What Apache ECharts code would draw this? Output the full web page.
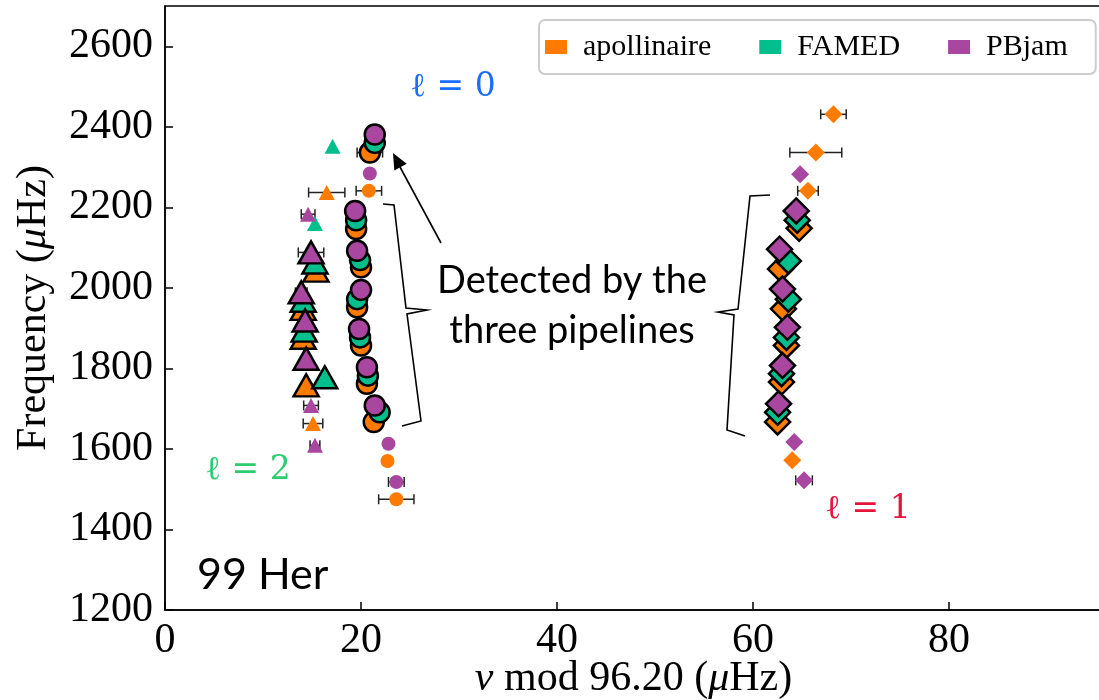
<!DOCTYPE html>
<html>
<head>
<meta charset="utf-8">
<script src="https://cdn.jsdelivr.net/npm/echarts@6/dist/echarts.min.js"></script>
<style>html,body{margin:0;padding:0;background:#fff}#chart{width:1099px;height:700px}</style>
</head>
<body>
<div id="chart"></div>
<script>
var ORANGE='#ff7b00', GREEN='#00bf8c', PURPLE='#a846a0';
var pipelines=['apollinaire','FAMED','PBjam'];

// l = 0 (circles); big = found by all three pipelines
var apoL0Big=[[20.9,2336],[19.5,2146],[20.0,2051],[19.6,1952],[20.0,1857],[20.6,1762],[21.3,1667]];
var famL0Big=[[21.4,2360],[19.5,2168],[19.9,2069],[19.6,1972],[19.9,1877],[20.7,1782],[21.9,1691]];
var pbjL0Big=[[21.4,2381],[19.4,2191],[19.6,2092],[20.0,1995],[19.8,1898],[20.6,1803],[21.4,1708]];
var apoL0=[[20.8,2241],[22.7,1570],[23.6,1475]];
var pbjL0=[[20.9,2284],[22.8,1613],[23.6,1518]];

// l = 2 (triangles)
var apoL2Big=[[15.4,2043],[14.1,1948],[14.1,1876],[14.4,1758]];
var famL2Big=[[15.3,2063],[14.1,1968],[14.2,1894],[16.3,1778]];
var pbjL2Big=[[14.9,2088],[13.9,1989],[14.3,1919],[14.4,1824]];
var apoL2=[[16.5,2237],[15.1,1663]];
var famL2=[[17.1,2352],[15.3,2160]];
var pbjL2=[[14.6,2183],[14.9,1708],[15.3,1609]];

// l = 1 (diamonds)
var apoL1Big=[[64.7,2148],[62.8,2047],[63.1,1948],[63.4,1857],[62.9,1766],[62.5,1667]];
var famL1Big=[[64.5,2168],[63.6,2067],[63.6,1972],[63.4,1877],[62.9,1787],[62.5,1691]];
var pbjL1Big=[[64.4,2191],[62.7,2096],[63.0,1997],[63.5,1902],[63.0,1807],[62.6,1712]];
var apoL1=[[68.2,2431],[66.4,2336],[65.6,2241],[64.0,1572]];
var pbjL1=[[64.8,2282],[64.2,1617],[65.2,1522]];

// horizontal error bars: [x, y, err]
var errBars=[[16.5,2237,1.85],[15.1,1663,1.0],[20.8,2241,1.3],[20.9,2336,1.3],[23.6,1475,1.8],
  [68.2,2431,1.3],[66.4,2336,2.65],[65.6,2241,1.05],
  [14.6,2183,0.7],[14.9,2088,1.3],[13.9,1989,0.6],[14.9,1708,0.75],[15.3,1609,0.5],
  [23.6,1518,0.8],[65.2,1522,0.85]];

var yTicks=[1200,1400,1600,1800,2000,2200,2400,2600];

function scat(name,data,symbol,size,color,big){
  return {
    type:'scatter', name:name, data:data, symbol:symbol, symbolSize:size,
    itemStyle:{color:color, opacity:1, borderColor:big?'#000':color, borderWidth:big?2.5:0},
    emphasis:{disabled:true}, z:big?4:3
  };
}

var chart=echarts.init(document.getElementById('chart'));
var serif='Liberation Serif';

var series=[{
  type:'custom', name:'err', data:errBars, encode:{x:0,y:1}, z:2, silent:true,
  renderItem:function(params,api){
    var x=api.value(0), y=api.value(1), e=api.value(2);
    var a=api.coord([x-e,y]), b=api.coord([x+e,y]), h=5;
    var st={stroke:'#222',lineWidth:1.5};
    return {type:'group',children:[
      {type:'line',shape:{x1:a[0],y1:a[1],x2:b[0],y2:b[1]},style:st},
      {type:'line',shape:{x1:a[0],y1:a[1]-h,x2:a[0],y2:a[1]+h},style:st},
      {type:'line',shape:{x1:b[0],y1:b[1]-h,x2:b[0],y2:b[1]+h},style:st}
    ]};
  }
}];
series.push(
  scat('apollinaire',apoL0,'circle',14,ORANGE,false),
  scat('PBjam',pbjL0,'circle',14,PURPLE,false),
  scat('apollinaire',apoL2,'triangle',[16,15],ORANGE,false),
  scat('FAMED',famL2,'triangle',[16,15],GREEN,false),
  scat('PBjam',pbjL2,'triangle',[16,15],PURPLE,false),
  scat('apollinaire',apoL1,'diamond',18,ORANGE,false),
  scat('PBjam',pbjL1,'diamond',18,PURPLE,false),
  scat('apollinaire',apoL0Big,'circle',20,ORANGE,true),
  scat('FAMED',famL0Big,'circle',20,GREEN,true),
  scat('PBjam',pbjL0Big,'circle',20,PURPLE,true),
  scat('apollinaire',apoL2Big,'triangle',[25,22],ORANGE,true),
  scat('FAMED',famL2Big,'triangle',[25,22],GREEN,true),
  scat('PBjam',pbjL2Big,'triangle',[25,22],PURPLE,true),
  scat('apollinaire',apoL1Big,'diamond',[25,25],ORANGE,true),
  scat('FAMED',famL1Big,'diamond',[25,25],GREEN,true),
  scat('PBjam',pbjL1Big,'diamond',[25,25],PURPLE,true)
);

var line={stroke:'#000',lineWidth:1.6,fill:null};
chart.setOption({
  animation:false,
  backgroundColor:'#fff',
  grid:{left:165,right:-3,top:6,bottom:90,show:true,borderColor:'#000',borderWidth:1.5,
    containLabel:false,outerBoundsMode:'none'},
  legend:{
    data:pipelines, left:539, top:20, icon:'rect', itemWidth:22, itemHeight:14, itemGap:48,
    padding:[12,28,12,6], borderColor:'#cccccc', borderWidth:2, borderRadius:6, backgroundColor:'#fff',
    itemStyle:{borderWidth:0},
    textStyle:{fontFamily:serif, fontSize:30, color:'#000', padding:[0,0,0,11]}
  },
  xAxis:{
    type:'value', min:0, max:95.6, interval:20,
    name:'{i|ν} mod 96.20 ({i|μ}Hz)', nameLocation:'middle', nameGap:48, nameMoveOverlap:false,
    nameTextStyle:{fontFamily:serif, fontSize:42, color:'#000',
      rich:{i:{fontFamily:serif, fontStyle:'italic', fontSize:42, color:'#000'}}},
    axisLine:{lineStyle:{color:'#000',width:1.5}},
    axisTick:{inside:true,length:8,lineStyle:{color:'#000',width:1.5}},
    axisLabel:{fontFamily:serif, fontSize:42, color:'#000', margin:10, showMaxLabel:false},
    splitLine:{show:false}
  },
  yAxis:{
    type:'value', min:1200, max:2700, interval:200,
    name:'Frequency ({i|μ}Hz)', nameLocation:'middle', nameGap:110, nameMoveOverlap:false,
    nameTextStyle:{fontFamily:serif, fontSize:42, color:'#000',
      rich:{i:{fontFamily:serif, fontStyle:'italic', fontSize:42, color:'#000'}}},
    axisLine:{lineStyle:{color:'#000',width:1.5}},
    axisTick:{inside:true,length:8,lineStyle:{color:'#000',width:1.5}},
    axisLabel:{fontFamily:serif, fontSize:42, color:'#000', margin:12, showMaxLabel:false,
      formatter:function(v){return yTicks.indexOf(v)>=0?String(v):'';}},
    splitLine:{show:false}
  },
  graphic:[
    {type:'text',x:453,y:87,style:{text:'ℓ = 0',fill:'#1a6cff',font:'33px "DejaVu Serif"',textAlign:'center',textVerticalAlign:'middle'}},
    {type:'text',x:248,y:470,style:{text:'ℓ = 2',fill:'#2ecc71',font:'33px "DejaVu Serif"',textAlign:'center',textVerticalAlign:'middle'}},
    {type:'text',x:868,y:509,style:{text:'ℓ = 1',fill:'#e6143c',font:'33px "DejaVu Serif"',textAlign:'center',textVerticalAlign:'middle'}},
    {type:'text',x:197,y:575,style:{text:'99 Her',fill:'#000',font:'43px Lato',textAlign:'left',textVerticalAlign:'middle'}},
    {type:'text',x:572,y:306,style:{text:'Detected by the\nthree pipelines',fill:'#000',font:'38px Lato',lineHeight:50,textAlign:'center',textVerticalAlign:'middle'}},
    {type:'polyline',shape:{points:[[383,204],[394,205],[406,308],[427,310],[407,314],[421,421],[402,426]]},style:line},
    {type:'polyline',shape:{points:[[770,195],[750,196],[738,309],[718,312],[734,315],[727,430],[745,436]]},style:line},
    {type:'line',shape:{x1:441,y1:243,x2:400,y2:167},style:{stroke:'#000',lineWidth:1.6}},
    {type:'polygon',shape:{points:[[393,153],[406.7,163.8],[394.3,170.4]]},style:{fill:'#000'}}
  ],
  series:series
});
</script>
</body>
</html>
